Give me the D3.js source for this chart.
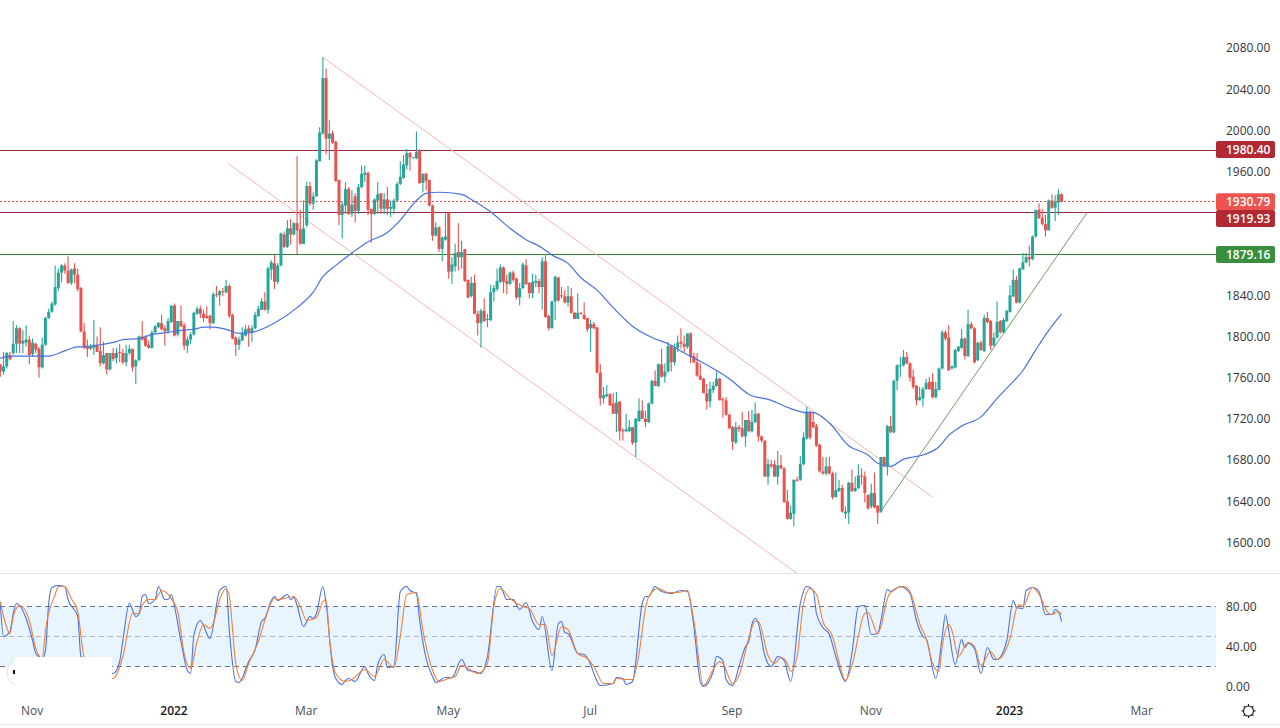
<!DOCTYPE html>
<html>
<head>
<meta charset="utf-8">
<title>Gold daily</title>
<script src="https://cdn.jsdelivr.net/npm/d3@7/dist/d3.min.js"></script>
<style>
  html, body { margin: 0; padding: 0; background: #fff; overflow: hidden; }
  text { font-family: "Open Sans", sans-serif; }
</style>
</head>
<body>
<div id="container"></div>
<script>
// Daily candles, index 0 is the first bar on the left
var opens = [
  1772,1765,1770,1781,1783,1792,1807,1792,1793,1796,1782,1792,1787,1769,1791,1817,1823,1830,1846,1861,
  1868,1863,1851,1865,1859,1846,1804,1790,1787,1788,1791,1785,1773,1783,1767,1783,1778,1784,1783,1774,
  1783,1787,1770,1776,1799,1798,1791,1788,1803,1808,1812,1807,1804,1813,1829,1801,1814,1810,1790,1796,
  1801,1821,1826,1821,1819,1819,1812,1840,1839,1843,1842,1848,1820,1798,1791,1795,1800,1807,1803,1807,
  1819,1825,1833,1825,1864,1870,1852,1868,1898,1886,1904,1898,1909,1903,1889,1907,1945,1928,1935,1969,
  1996,2050,1991,1996,1988,1951,1917,1926,1942,1918,1935,1921,1944,1956,1958,1923,1918,1931,1938,1923,
  1932,1923,1923,1931,1947,1953,1965,1977,1972,1972,1980,1948,1957,1951,1926,1897,1905,1884,1893,1919,
  1862,1867,1881,1876,1884,1854,1838,1851,1821,1812,1824,1815,1815,1842,1845,1852,1866,1853,1850,1861,
  1855,1837,1846,1868,1851,1841,1851,1853,1847,1872,1819,1807,1833,1856,1839,1838,1832,1838,1822,1816,
  1822,1820,1817,1807,1811,1808,1764,1739,1741,1743,1734,1724,1736,1708,1707,1707,1711,1696,1717,1727,
  1719,1716,1734,1756,1751,1772,1760,1765,1790,1774,1788,1794,1792,1789,1802,1780,1774,1761,1758,1744,
  1736,1747,1751,1758,1738,1737,1723,1711,1696,1711,1710,1702,1718,1707,1716,1724,1702,1698,1663,1675,
  1675,1663,1674,1671,1639,1622,1627,1660,1660,1675,1700,1726,1716,1712,1694,1668,1666,1673,1666,1643,
  1649,1652,1627,1628,1657,1649,1652,1664,1663,1645,1634,1647,1635,1629,1682,1673,1712,1706,1756,1770,
  1771,1779,1773,1760,1751,1737,1739,1748,1755,1755,1740,1747,1768,1803,1798,1768,1769,1785,1788,1797,
  1780,1811,1807,1776,1793,1785,1817,1814,1790,1798,1814,1803,1814,1823,1838,1854,1832,1864,1871,1876,
  1874,1896,1922,1914,1908,1902,1931,1924,1929,1937
];
var highs = [
  1772,1784,1784,1784,1814,1810,1808,1805,1810,1800,1797,1793,1789,1798,1818,1826,1833,1868,1865,1869,
  1870,1877,1865,1870,1865,1847,1812,1796,1792,1815,1799,1808,1794,1783,1783,1788,1788,1792,1787,1791,
  1791,1787,1777,1800,1814,1800,1795,1805,1810,1813,1820,1810,1817,1829,1831,1814,1829,1812,1799,1803,
  1823,1828,1829,1825,1828,1820,1842,1848,1844,1846,1854,1850,1821,1799,1799,1808,1810,1810,1810,1823,
  1829,1836,1842,1867,1873,1878,1870,1900,1901,1912,1913,1910,1974,1922,1931,1949,1949,1939,1971,2002,
  2070,2059,2009,1999,1989,1951,1930,1949,1944,1941,1938,1947,1965,1965,1959,1923,1933,1949,1938,1938,
  1944,1931,1933,1949,1969,1975,1981,1978,1973,1998,1981,1957,1958,1951,1927,1910,1906,1896,1919,1920,
  1876,1889,1909,1892,1884,1854,1857,1859,1824,1826,1836,1821,1849,1849,1865,1869,1867,1859,1862,1863,
  1856,1851,1871,1874,1852,1860,1859,1855,1876,1878,1820,1834,1858,1857,1847,1844,1848,1846,1823,1841,
  1823,1832,1817,1815,1813,1808,1772,1750,1752,1744,1744,1745,1736,1710,1724,1718,1711,1720,1739,1737,
  1727,1735,1757,1766,1773,1787,1773,1794,1791,1792,1800,1807,1800,1802,1803,1783,1783,1773,1759,1753,
  1755,1755,1765,1759,1740,1740,1724,1712,1716,1713,1726,1718,1727,1728,1735,1725,1703,1698,1680,1679,
  1679,1688,1684,1672,1650,1635,1660,1663,1683,1706,1731,1727,1726,1714,1695,1682,1682,1682,1668,1667,
  1660,1655,1634,1658,1670,1663,1675,1671,1668,1646,1656,1667,1635,1682,1682,1713,1722,1757,1772,1779,
  1786,1784,1774,1767,1752,1750,1750,1758,1760,1763,1755,1769,1805,1805,1810,1771,1787,1790,1806,1798,
  1825,1813,1808,1794,1795,1820,1823,1815,1803,1833,1815,1817,1825,1849,1864,1858,1866,1880,1880,1887,
  1897,1922,1928,1923,1917,1932,1937,1936,1942,1938
];
var lows = [
  1760,1762,1768,1776,1781,1783,1783,1783,1789,1772,1779,1783,1759,1768,1790,1816,1822,1829,1843,1852,
  1860,1850,1849,1851,1843,1803,1787,1779,1786,1781,1784,1770,1772,1762,1766,1775,1773,1774,1772,1770,
  1781,1765,1753,1775,1795,1789,1787,1787,1802,1807,1805,1790,1802,1812,1799,1799,1808,1786,1783,1792,
  1800,1820,1817,1813,1816,1806,1811,1837,1829,1838,1841,1817,1796,1780,1786,1795,1799,1789,1794,1806,
  1818,1825,1824,1821,1854,1845,1850,1867,1885,1885,1888,1897,1879,1888,1889,1905,1926,1922,1935,1969,
  1995,1976,1970,1986,1949,1907,1894,1918,1917,1915,1910,1918,1943,1949,1917,1890,1917,1918,1918,1918,
  1917,1915,1918,1930,1946,1952,1961,1960,1972,1971,1947,1939,1941,1925,1892,1896,1881,1872,1892,1855,
  1850,1862,1863,1865,1852,1836,1837,1821,1800,1788,1813,1808,1814,1833,1843,1851,1841,1840,1849,1852,
  1835,1829,1845,1849,1836,1836,1847,1841,1825,1817,1805,1807,1815,1833,1836,1831,1828,1821,1816,1816,
  1820,1815,1803,1784,1806,1763,1732,1734,1740,1732,1724,1706,1698,1698,1706,1706,1694,1682,1716,1719,
  1711,1715,1733,1751,1750,1759,1754,1764,1765,1771,1784,1787,1784,1787,1773,1773,1760,1757,1744,1728,
  1730,1744,1750,1737,1720,1722,1709,1689,1695,1706,1701,1692,1706,1706,1715,1697,1696,1663,1655,1671,
  1663,1655,1670,1638,1621,1621,1615,1658,1659,1674,1699,1699,1710,1692,1667,1665,1664,1665,1641,1643,
  1648,1628,1622,1617,1648,1648,1651,1655,1638,1631,1632,1632,1617,1628,1672,1664,1705,1705,1747,1760,
  1770,1772,1755,1748,1732,1737,1731,1747,1747,1739,1739,1747,1767,1795,1766,1767,1768,1784,1787,1777,
  1779,1806,1773,1775,1785,1784,1812,1786,1790,1797,1802,1802,1813,1822,1837,1831,1831,1864,1870,1867,
  1873,1895,1913,1907,1896,1902,1923,1911,1917,1929
];
var closes = [
  1765,1770,1783,1777,1792,1807,1792,1795,1796,1781,1793,1786,1769,1791,1817,1823,1831,1847,1861,1868,
  1863,1851,1864,1859,1845,1804,1788,1787,1789,1791,1784,1773,1781,1767,1783,1777,1783,1783,1774,1783,
  1787,1769,1776,1799,1796,1790,1788,1803,1809,1812,1806,1804,1814,1829,1800,1814,1809,1790,1796,1801,
  1822,1826,1821,1817,1817,1812,1840,1839,1843,1842,1848,1819,1797,1791,1796,1802,1806,1803,1807,1820,
  1826,1833,1825,1865,1871,1852,1868,1899,1886,1904,1898,1909,1902,1889,1904,1945,1928,1935,1970,1997,
  2050,1991,1996,1987,1950,1917,1927,1942,1918,1927,1921,1944,1957,1958,1922,1918,1932,1937,1923,1932,
  1923,1925,1931,1947,1954,1966,1977,1973,1973,1978,1948,1957,1950,1926,1897,1905,1884,1895,1896,1862,
  1869,1880,1876,1881,1853,1837,1851,1821,1812,1824,1814,1816,1842,1846,1853,1866,1852,1850,1861,1854,
  1837,1846,1869,1850,1841,1852,1853,1847,1872,1818,1807,1833,1857,1834,1838,1832,1838,1822,1816,1822,
  1821,1816,1806,1811,1807,1764,1739,1742,1743,1732,1724,1735,1707,1707,1709,1711,1696,1719,1727,1719,
  1716,1734,1756,1751,1772,1760,1765,1790,1774,1788,1793,1792,1789,1802,1779,1774,1761,1757,1744,1736,
  1748,1751,1758,1737,1737,1723,1710,1697,1711,1709,1702,1718,1707,1716,1724,1702,1698,1663,1675,1673,
  1663,1674,1671,1638,1622,1628,1660,1659,1675,1701,1726,1701,1711,1693,1668,1666,1673,1666,1643,1650,
  1652,1629,1629,1657,1649,1652,1664,1663,1647,1632,1647,1633,1628,1682,1673,1712,1706,1756,1771,1771,
  1779,1773,1759,1750,1737,1740,1748,1754,1748,1740,1748,1768,1803,1797,1766,1770,1786,1789,1797,1780,
  1811,1807,1774,1793,1786,1817,1813,1790,1798,1813,1803,1815,1824,1839,1854,1832,1865,1871,1876,1874,
  1896,1922,1914,1908,1902,1931,1924,1930,1937,1930
];

var maBars = [0,3,9,15,20,24,26,31,36,38,43,47,52,56,60,63,66,71,74,78,85,92,97,100,104,109,114,120,124,129,132,136,143,146,152,158,163,168,171,176,180,185,190,196,202,207,212,217,222,226,232,239,245,250,252,257,263,269,272,276,280,283,286,291,294,298,304,309,313,317,321,325,329];
var maValues = [1778,1780,1780,1780,1785,1789,1789,1791,1794,1796,1797,1801,1803,1805,1806,1808,1808,1805,1802,1803,1812,1827,1842,1857,1868,1880,1891,1900,1912,1931,1938,1939,1937,1932,1920,1904,1893,1885,1878,1870,1856,1844,1827,1809,1798,1792,1783,1775,1766,1758,1743,1737,1729,1725,1725,1715,1693,1684,1676,1673,1680,1682,1684,1692,1703,1712,1721,1739,1752,1766,1786,1805,1821];

// Stoch RSI K (blue)
var kBars = [0,1,3,4,5,6,8,10,11,13,14,15,16,18,20,21,24,25,35,37,38,40,42,43,44,45,46,48,49,51,52,53,54,56,58,59,60,62,65,68,70,71,73,74,77,79,81,82,84,85,86,89,90,91,92,94,96,97,98,100,101,103,104,106,107,108,110,113,114,116,117,119,120,122,124,126,127,129,130,132,134,135,138,140,143,145,147,149,151,154,155,157,159,161,163,165,167,168,171,173,174,175,176,179,181,183,184,186,190,191,193,194,196,199,200,201,203,205,208,211,213,215,217,218,221,222,224,225,227,229,231,232,233,234,235,237,239,241,243,245,248,250,252,253,255,257,259,262,264,266,268,270,272,273,275,276,279,282,284,286,287,290,292,293,294,296,298,299,300,302,304,306,308,309,312,314,315,317,318,320,322,324,326,327,328,329];
var kValues = [83,50,55,73,83,81,68,46,33,28,36,83,99,101,100,87,70,30,13,25,46,83,70,72,90,92,83,87,100,87,87,92,80,45,16,13,51,66,48,96,100,56,5,4,25,37,65,68,86,90,86,92,87,89,81,60,70,68,73,100,83,20,8,2,6,8,5,20,13,6,22,32,19,20,95,100,96,93,66,28,10,4,9,9,27,16,15,13,30,100,100,87,87,77,84,65,57,70,16,63,65,54,53,33,32,22,13,1,3,9,8,2,5,83,90,90,100,95,93,96,95,60,5,0,15,30,26,7,1,20,40,45,62,68,63,31,20,30,26,5,83,100,96,73,59,52,30,5,33,80,81,52,53,66,97,95,100,93,66,50,48,8,50,72,56,22,47,39,43,38,13,39,27,27,46,86,79,78,96,99,95,72,72,77,75,65];

// Stoch RSI D (orange)
var dBars = [0,1,3,4,6,9,11,13,14,17,18,20,22,24,26,35,38,41,43,44,46,48,50,53,55,57,59,61,63,65,66,68,70,71,73,75,77,80,82,85,86,91,93,95,98,100,101,102,104,107,109,113,116,119,122,124,126,129,131,134,136,139,141,143,148,151,153,155,158,162,164,167,169,171,174,176,179,182,184,187,190,191,194,196,198,200,201,204,207,210,213,215,218,221,223,224,227,229,232,234,235,238,240,242,244,245,247,249,251,253,255,258,260,262,264,268,269,272,273,275,277,280,282,285,287,289,291,292,294,295,297,300,302,304,307,309,313,315,316,317,320,322,325,326,328,329];
var dValues = [85,70,53,70,81,66,38,28,56,92,100,100,88,75,30,8,30,73,73,81,87,87,96,88,75,33,18,45,62,58,63,87,98,90,23,6,23,45,66,88,87,90,80,66,69,85,87,50,13,5,7,17,10,27,19,50,92,94,56,16,5,8,10,21,13,23,80,98,88,80,78,62,62,31,60,57,33,28,20,3,3,8,7,7,33,78,90,98,94,94,96,66,1,17,25,23,3,11,48,65,65,31,23,29,23,15,30,83,98,92,65,50,25,6,21,73,74,53,60,88,97,100,95,63,48,23,15,40,62,56,30,44,40,21,35,27,48,78,82,80,99,92,73,72,75,72];

// Channel and trend lines as [bar, price] pairs
var upperChannel = [[100, 2070], [289, 1643]];
var lowerChannel = [[70.6, 1967], [247, 1569]];
var trendLine = [[273, 1629.4], [337, 1919.7]];

var levelValues = [1980.40, 1919.93, 1879.16];
var levelNames = ["1980.40", "1919.93", "1879.16"];
var lastPrice = 1930.79;

var priceTicks = [2080, 2040, 2000, 1960, 1840, 1800, 1760, 1720, 1680, 1640, 1600];
var oscTicks = [80, 40, 0];
var timeBars = [10, 54, 95, 139, 183, 227, 270, 313, 354];
var timeLabels = ["Nov", "2022", "Mar", "May", "Jul", "Sep", "Nov", "2023", "Mar"];

var width = 1280;
var height = 728;
var paneRight = 1216;

var svg = d3.select("#container").append("svg")
    .attr("width", width)
    .attr("height", height)
    .style("display", "block");

var x = d3.scaleLinear().domain([0, 329]).range([0.3, 1061.6]);
var y = d3.scaleLinear().domain([1600, 2080]).range([541.5, 47]);
var yOsc = d3.scaleLinear().domain([0, 100]).range([686.5, 586.5]);

svg.append("clipPath").attr("id", "mainClip").append("rect")
    .attr("x", 0).attr("y", 0).attr("width", paneRight).attr("height", 573);

var main = svg.append("g").attr("clip-path", "url(#mainClip)");

// Horizontal levels
var levelColor = ["#9c2a3a", "#9c2a3a", "#377f38"];
levelValues.forEach(function (d, i) {
    main.append("line")
        .attr("x1", 0).attr("x2", paneRight)
        .attr("y1", Math.round(y(d)) + 0.5).attr("y2", Math.round(y(d)) + 0.5)
        .attr("stroke", levelColor[i]).attr("stroke-width", 1.2);
});
main.append("line")
    .attr("x1", 0).attr("x2", paneRight)
    .attr("y1", Math.round(y(lastPrice)) + 0.5).attr("y2", Math.round(y(lastPrice)) + 0.5)
    .attr("stroke", "#ef5350").attr("stroke-width", 1).attr("stroke-dasharray", "2 2");

// Channel and trend
function drawSegment(pts, color) {
    main.append("line")
        .attr("x1", x(pts[0][0])).attr("y1", y(pts[0][1]))
        .attr("x2", x(pts[1][0])).attr("y2", y(pts[1][1]))
        .attr("stroke", color).attr("stroke-width", 1);
}
drawSegment(upperChannel, "#f2b8b0");
drawSegment(lowerChannel, "#f2b8b0");
drawSegment(trendLine, "#6f9a63");

// Candles
var bars = d3.range(opens.length);
main.selectAll("line.wick").data(bars).enter().append("line")
    .attr("class", "wick")
    .attr("x1", function (i) { return x(i); })
    .attr("x2", function (i) { return x(i); })
    .attr("y1", function (i) { return y(highs[i]); })
    .attr("y2", function (i) { return y(lows[i]); })
    .attr("stroke", function (i) { return closes[i] >= opens[i] ? "#26a69a" : "#e8524f"; })
    .attr("stroke-width", 1.1);
main.selectAll("rect.body").data(bars).enter().append("rect")
    .attr("class", "body")
    .attr("x", function (i) { return x(i) - 1.5; })
    .attr("width", 3)
    .attr("y", function (i) { return y(Math.max(opens[i], closes[i])); })
    .attr("height", function (i) { return Math.max(1, Math.abs(y(opens[i]) - y(closes[i]))); })
    .attr("fill", function (i) { return closes[i] >= opens[i] ? "#26a69a" : "#e8524f"; });

// Moving average
main.append("path")
    .attr("d", d3.line()
        .x(function (d, i) { return x(maBars[i]); })
        .y(function (d) { return y(d); })
        .curve(d3.curveMonotoneX)(maValues))
    .attr("fill", "none").attr("stroke", "#4a72e0").attr("stroke-width", 1.2);

// Price axis
var priceAxis = svg.append("g")
    .attr("transform", "translate(" + paneRight + ",1)")
    .call(d3.axisRight(y).tickValues(priceTicks).tickSize(0).tickPadding(10)
        .tickFormat(d3.format(".2f")));
priceAxis.select(".domain").remove();
priceAxis.selectAll("text").attr("fill", "#333").style("font-size", "12px")
    .style("font-family", "'Open Sans', sans-serif");

// Level labels
var labelRows = [
    { name: levelNames[0], price: levelValues[0], fill: "#b22833", shift: 0 },
    { name: d3.format(".2f")(lastPrice), price: lastPrice, fill: "#ef5350", shift: 1 },
    { name: levelNames[1], price: levelValues[1], fill: "#b22833", shift: 6.5 },
    { name: levelNames[2], price: levelValues[2], fill: "#388e3c", shift: 0.5 }
];
labelRows.forEach(function (d) {
    var cy = y(d.price) + d.shift;
    svg.append("rect")
        .attr("x", paneRight).attr("y", cy - 8.5)
        .attr("width", 59).attr("height", 17).attr("rx", 2)
        .attr("fill", d.fill);
    svg.append("text")
        .attr("x", paneRight + 10).attr("y", cy + 4.2)
        .attr("fill", "#fff").attr("font-size", 12).attr("font-weight", 600)
        .text(d.name);
});

// Oscillator pane
svg.append("rect")
    .attr("x", 0).attr("width", paneRight)
    .attr("y", yOsc(80)).attr("height", yOsc(20) - yOsc(80))
    .attr("fill", "#e8f4fe");
[80, 50, 20].forEach(function (d) {
    svg.append("line")
        .attr("x1", 0).attr("x2", paneRight)
        .attr("y1", yOsc(d)).attr("y2", yOsc(d))
        .attr("stroke", d === 50 ? "#b0b3bc" : "#6d707b")
        .attr("stroke-width", 1).attr("stroke-dasharray", "5 4");
});
function drawOsc(barList, values, color) {
    svg.append("path")
        .attr("d", d3.line()
            .x(function (d, i) { return x(barList[i]); })
            .y(function (d) { return yOsc(d); })
            .curve(d3.curveMonotoneX)(values))
        .attr("fill", "none").attr("stroke", color).attr("stroke-width", 1.1);
}
drawOsc(kBars, kValues, "#4a72e0");
drawOsc(dBars, dValues, "#f0813a");

var oscAxis = svg.append("g")
    .attr("transform", "translate(" + paneRight + ",0)")
    .call(d3.axisRight(yOsc).tickValues(oscTicks).tickSize(0).tickPadding(10)
        .tickFormat(d3.format(".2f")));
oscAxis.select(".domain").remove();
oscAxis.selectAll("text").attr("fill", "#333").style("font-size", "12px")
    .style("font-family", "'Open Sans', sans-serif");

// Blanked corner over the oscillator
svg.append("circle")
    .attr("cx", 20).attr("cy", 673).attr("r", 13)
    .attr("fill", "#fff").attr("stroke", "#e4e4e8");
svg.append("rect")
    .attr("x", 15).attr("y", 657).attr("width", 97).attr("height", 33).attr("fill", "#fff");
svg.append("rect")
    .attr("x", 13).attr("y", 670).attr("width", 2).attr("height", 4).attr("fill", "#111");

// Pane borders
[573.5, 724.5].forEach(function (d) {
    svg.append("line").attr("x1", 0).attr("x2", width).attr("y1", d).attr("y2", d)
        .attr("stroke", "#e0e3eb");
});

// Time axis
var timeScale = d3.axisBottom(x).tickValues(timeBars).tickSize(0).tickPadding(0)
    .tickFormat(function (d, i) { return timeLabels[i]; });
var timeAxis = svg.append("g").attr("transform", "translate(-1,706.5)").call(timeScale);
timeAxis.select(".domain").remove();
timeAxis.selectAll("text")
    .attr("fill", function (d, i) { return timeLabels[i].length === 4 ? "#131722" : "#4a4e5a"; })
    .attr("font-weight", function (d, i) { return timeLabels[i].length === 4 ? 600 : 400; })
    .style("font-size", "12px")
    .style("font-family", "'Open Sans', sans-serif");

// Settings gear
var gear = svg.append("g").attr("transform", "translate(1248.5,711)")
    .attr("stroke", "#131722").attr("fill", "none").attr("stroke-width", 1.1);
gear.append("circle").attr("r", 5);
d3.range(8).forEach(function (k) {
    var a = k * Math.PI / 4;
    gear.append("line")
        .attr("x1", 5 * Math.cos(a)).attr("y1", 5 * Math.sin(a))
        .attr("x2", 7 * Math.cos(a)).attr("y2", 7 * Math.sin(a));
});
</script>
</body>
</html>
